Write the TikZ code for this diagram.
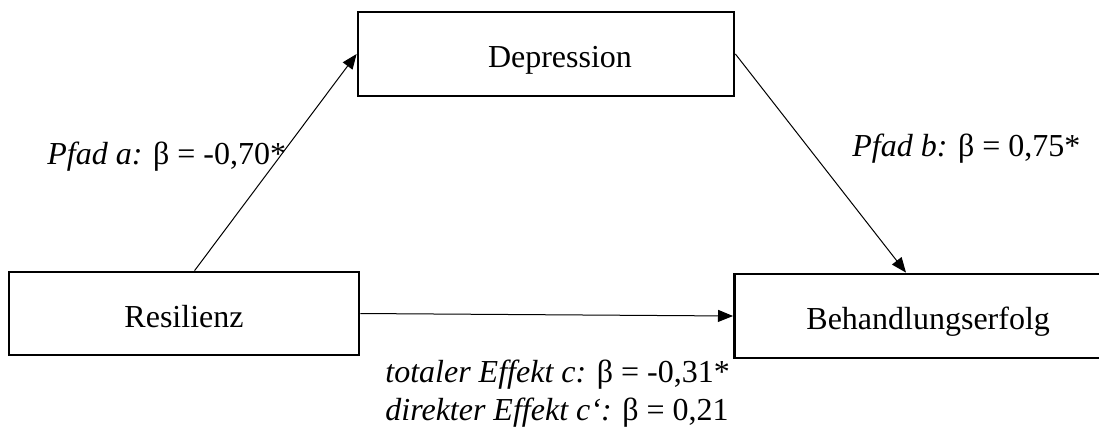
\documentclass[tikz,border=0pt]{standalone}
\usepackage{fontspec}
\setmainfont{Liberation Serif}
\usetikzlibrary{positioning,calc,arrows.meta}

\begin{document}
\begin{tikzpicture}[x=0.5pt,y=-0.5pt,font=\fontsize{16}{19}\selectfont]
            \tikzstyle{box}=[rectangle, draw, line width=1.4pt, inner sep=0pt,
            text height=13.5pt, text depth=0pt]
            \tikzstyle{arr}=[-{Triangle[length=7.5pt,width=6pt]}, line width=0.5pt]
            \tikzstyle{lab}=[anchor=base west, inner sep=0pt]
            \clip (0,0) rectangle (1099,430);
            \node[box, minimum width=188pt, minimum height=42pt] (dep) at (546,54) {\hspace*{14pt}Depression};
            \node[box, minimum width=175pt, minimum height=41.5pt] (res) at (184,313.5) {Resilienz};
            \node[box, anchor=west, minimum height=42pt, text width=200pt,
                  align=left, inner xsep=36pt] (beh) at (733,316) {Behandlungserfolg};
            \node[lab] (la) at (47,164) {\textit{Pfad a:} β = -0,70*};
            \node[lab] (lb) at (852,156) {\textit{Pfad b:} β = 0,75*};
            \node[lab] (lc) at (385,382) {\textit{totaler Effekt c:} β = -0,31*};
            \node[lab] (ld) at (385,420) {\textit{direkter Effekt c‘:} β = 0,21};
            \path
            ($(res.north west)!0.53!(res.north east)$) edge [arr] (dep.west)
            (dep.east) edge [arr] ($(beh.north west)+(173,0)$)
            (res.east) edge [arr] (beh.west);
        \end{tikzpicture}
\end{document}
